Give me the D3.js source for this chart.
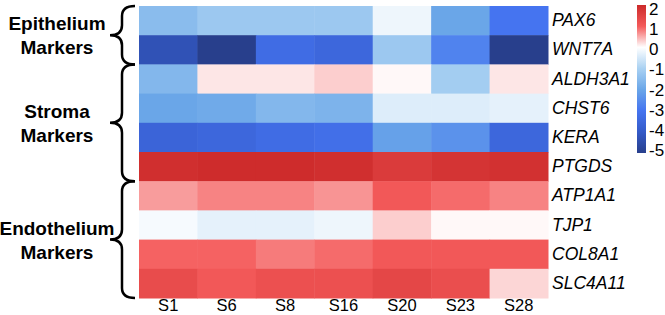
<!DOCTYPE html>
<html>
<head>
<meta charset="utf-8">
<script src="https://cdn.jsdelivr.net/npm/d3@7"></script>
<style>
  body { margin: 0; background: #fff; }
  svg { display: block; font-family: Arial, 'Liberation Sans', sans-serif; }
</style>
</head>
<body>
<div id="chart"></div>
<script>
const samples = ['S1', 'S6', 'S8', 'S16', 'S20', 'S23', 'S28']
const genes = ['PAX6', 'WNT7A', 'ALDH3A1', 'CHST6', 'KERA', 'PTGDS', 'ATP1A1', 'TJP1', 'COL8A1', 'SLC4A11']
const groups = [
  { name: ['Epithelium', 'Markers'], first: 'PAX6', last: 'WNT7A' },
  { name: ['Stroma', 'Markers'], first: 'ALDH3A1', last: 'PTGDS' },
  { name: ['Endothelium', 'Markers'], first: 'ATP1A1', last: 'SLC4A11' }
]
// one row per gene, columns follow samples
const values = [
  [-1.5, -1.2, -1.2, -1.2, -0.2, -2.0, -3.0],
  [-4.3, -5.0, -3.3, -3.5, -1.2, -2.7, -5.0],
  [-1.6, 0.15, 0.15, 0.3, 0.04, -1.1, 0.15],
  [-2.0, -1.9, -1.6, -1.7, -0.4, -0.4, -0.3],
  [-3.6, -3.5, -3.3, -3.2, -2.1, -2.4, -3.5],
  [1.9, 1.95, 1.95, 1.9, 1.65, 1.8, 1.85],
  [0.6, 0.75, 0.75, 0.65, 1.05, 0.9, 0.75],
  [-0.1, -0.3, -0.3, -0.2, 0.3, 0.04, 0.04],
  [0.95, 0.95, 0.8, 0.9, 1.05, 1.05, 1.05],
  [1.3, 1.05, 1.2, 1.2, 1.4, 1.25, 0.25]
]
const legendTicks = [2, 1, 0, -1, -2, -3, -4, -5]

const width = 665
const height = 315
const font = 'Arial, Liberation Sans, sans-serif'

const color = d3.scaleLinear()
  .domain([-5, -4, -3, -2, -1, 0, 1, 2])
  .range(['#283f8c', '#345ac8', '#4574f0', '#6aa6e8', '#a9d1f2', '#ffffff', '#f45a5a', '#cc2a2a'])
  .clamp(true)

const svg = d3.select('#chart').append('svg')
  .attr('width', width)
  .attr('height', height)

const x = d3.scaleBand().domain(samples).range([139, 548])
const y = d3.scaleBand().domain(genes).range([6, 298])

const cells = genes.flatMap((g, i) => samples.map((s, j) => ({ gene: g, sample: s, value: values[i][j] })))

svg.append('g')
  .selectAll('rect')
  .data(cells)
  .join('rect')
  .attr('x', d => x(d.sample))
  .attr('y', d => y(d.gene))
  .attr('width', x.bandwidth() + 0.5)
  .attr('height', y.bandwidth() + 0.5)
  .attr('fill', d => color(d.value))

// gene labels
svg.append('g')
  .attr('transform', `translate(${x.range()[1] + 4},0)`)
  .call(d3.axisRight(y).tickSize(0).tickPadding(0))
  .call(g => g.select('.domain').remove())
  .selectAll('text')
  .attr('font-size', 17.5)
  .attr('font-style', 'italic')
  .attr('font-family', font)
  .attr('fill', '#000')

// sample labels
svg.append('g')
  .attr('transform', `translate(0,${y.range()[1] + 1})`)
  .call(d3.axisBottom(x).tickSize(0).tickPadding(0))
  .call(g => g.select('.domain').remove())
  .selectAll('text')
  .attr('font-size', 16.5)
  .attr('font-family', font)
  .attr('fill', '#000')

// braces + group labels
const brace = (bx, y0, y1) => {
  const w = 13, r = 10, t = 12
  const mid = (y0 + y1) / 2
  return `M${bx + w},${y0} Q${bx},${y0} ${bx},${y0 + r} L${bx},${mid - r} Q${bx},${mid} ${bx - t},${mid}` +
    ` Q${bx},${mid} ${bx},${mid + r} L${bx},${y1 - r} Q${bx},${y1} ${bx + w},${y1}`
}

groups.forEach(grp => {
  const y0 = y(grp.first)
  const y1 = y(grp.last) + y.bandwidth()
  svg.append('path')
    .attr('d', brace(122, y0, y1))
    .attr('fill', 'none')
    .attr('stroke', '#000')
    .attr('stroke-width', 2.5)
  const mid = (y0 + y1) / 2
  svg.append('text')
    .attr('text-anchor', 'middle')
    .attr('font-size', 19)
    .attr('font-weight', 'bold')
    .attr('font-family', font)
    .selectAll('tspan')
    .data(grp.name)
    .join('tspan')
    .attr('x', 57)
    .attr('y', (d, i) => mid - 5 + i * 24)
    .text(d => d)
})

// colour legend
const ly = d3.scaleLinear().domain([-5, 2]).range([150, 9])
const grad = svg.append('defs').append('linearGradient')
  .attr('id', 'grad')
  .attr('x1', 0).attr('y1', 1).attr('x2', 0).attr('y2', 0)
grad.selectAll('stop')
  .data(d3.range(-5, 2.01, 0.25))
  .join('stop')
  .attr('offset', d => (d + 5) / 7)
  .attr('stop-color', d => color(d))

svg.append('rect')
  .attr('x', 637)
  .attr('y', 5)
  .attr('width', 9)
  .attr('height', 148)
  .attr('fill', 'url(#grad)')

svg.append('g')
  .attr('transform', 'translate(648,0)')
  .call(d3.axisRight(ly).tickValues(legendTicks).tickFormat(d => String(d)).tickSize(0).tickPadding(1))
  .call(g => g.select('.domain').remove())
  .selectAll('text')
  .attr('font-size', 17)
  .attr('font-family', font)
  .attr('fill', '#000')
</script>
</body>
</html>
